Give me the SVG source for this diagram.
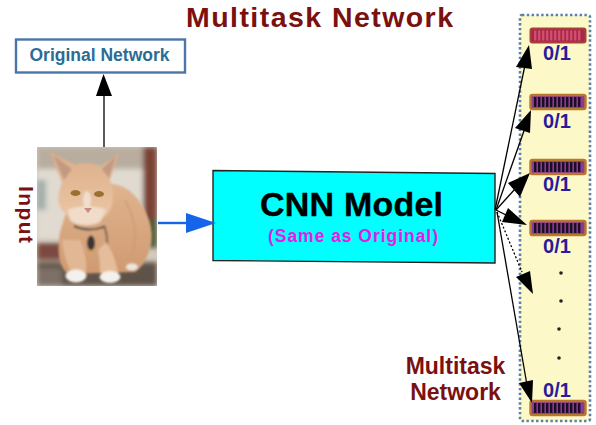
<svg xmlns="http://www.w3.org/2000/svg" width="596" height="425" viewBox="0 0 596 425">
<style>
text{font-family:"Liberation Sans",Arial,sans-serif;font-weight:700}
.title{fill:#7b1010;font-size:28.500px}
.red{fill:#7b1010;font-size:23px;text-anchor:middle}
.bit{fill:#2a1a9c;font-size:20px;text-anchor:middle}
.bar{fill:#8a3a96;stroke:#b8782a;stroke-width:2.400}
.ticks{fill:none;stroke:#1c0f24;stroke-width:10;stroke-dasharray:2.400 1.600}
.con{fill:none;stroke:#000;stroke-width:1.300}
.head{fill:#000}
.dot{fill:#222}
</style>
<defs>
<filter id="b1" x="-20%" y="-20%" width="140%" height="140%"><feGaussianBlur stdDeviation=".8"/></filter>
<filter id="b3" x="-30%" y="-30%" width="160%" height="160%"><feGaussianBlur stdDeviation="2.500"/></filter>
<linearGradient id="fur" x1="0" y1="0" x2="0" y2="1"><stop offset="0" stop-color="#e0b48e"/><stop offset="1" stop-color="#cf9a72"/></linearGradient>
<linearGradient id="face" x1="0" y1="0" x2="0" y2="1"><stop offset="0" stop-color="#dcae88"/><stop offset="1" stop-color="#ecc8a8"/></linearGradient>
<clipPath id="photo"><rect x="37" y="147" width="120" height="139"/></clipPath>
</defs>

<text class="title" x="319.500" y="26.500" text-anchor="middle" textLength="267">Multitask Network</text>

<g id="original-network">
<rect x="16" y="39.500" width="169" height="33" fill="#fff" stroke="#4a76a8" stroke-width="2.400"/>
<text x="99.500" y="60.500" font-size="17.500" fill="#2b6c96" text-anchor="middle">Original Network</text>
</g>

<g id="input">
<text transform="translate(19,186) rotate(90)" font-size="21" fill="#7b1010" textLength="57">Input</text>
<g clip-path="url(#photo)">
<rect x="37" y="147" width="120" height="139" fill="#d4cbbf"/>
<g filter="url(#b3)">
<rect x="37" y="147" width="110" height="22" fill="#b9ad9f"/>
<rect x="37" y="169" width="106" height="70" fill="#e0dad0"/>
<rect x="143" y="147" width="14" height="85" fill="#7a4336"/>
<rect x="149" y="218" width="8" height="30" fill="#4d5a35"/>
<rect x="37" y="180" width="9" height="30" fill="#a3aeac"/>
<rect x="37" y="243" width="30" height="17" fill="#7a4a40"/>
<rect x="37" y="262" width="120" height="24" fill="#5f5249"/>
<rect x="37" y="268" width="25" height="18" fill="#7d7068"/>
</g>
<g filter="url(#b1)">
<path d="M60 232C57 250 58 266 68 274L135 272C150 262 155 236 149 220C142 200 128 184 110 184L70 200Z" fill="url(#fur)"/>
<path d="M50 152L75 165C84 162 92 162 100 167L119 153C116 163 112 172 110 180C114 192 114 202 110 210C104 220 94 224 85 223C74 222 62 214 59 204C57 196 60 188 62 183C58 172 54 162 50 152Z" fill="url(#face)"/>
<path d="M53 155L72 169L64 180Z" fill="#c29a82"/>
<path d="M116 156L102 169L109 178Z" fill="#c29a82"/>
<path d="M125 200C135 218 138 235 132 256" stroke="#c89870" stroke-width="2" fill="none" opacity=".6"/>
<ellipse cx="87" cy="200" rx="4" ry="9" fill="#f3e6da" opacity=".8"/>
<path d="M68 210C78 205 96 205 106 210L100 222C90 227 76 226 70 220Z" fill="#f0dcc8"/>
<path d="M74 226C84 231 98 230 105 226" fill="none" stroke="#4a4a48" stroke-width="2"/>
<path d="M104 226C108 234 107 244 106 250" fill="none" stroke="#444" stroke-width="1.500"/>
<ellipse cx="91" cy="243" rx="4" ry="7.500" fill="#3a3530"/>
<circle cx="91" cy="251" r="1.500" fill="#c9a030"/>
<path d="M62 240C64 256 68 268 72 272L86 272C87 260 84 248 80 240Z" fill="#e2b794"/>
<path d="M98 250C100 260 100 268 100 273L118 273C116 262 112 250 106 242Z" fill="#e5bd9b"/>
<ellipse cx="76" cy="276" rx="10.500" ry="6.500" fill="#f4f1ec"/>
<ellipse cx="110" cy="277" rx="10.500" ry="6" fill="#f4f1ec"/>
<ellipse cx="132" cy="267" rx="6" ry="3.500" fill="#ece6de"/>
</g>
<ellipse cx="75.500" cy="193" rx="5" ry="3" fill="#9a7030"/>
<ellipse cx="99" cy="194" rx="5" ry="3" fill="#9a7030"/>
<path d="M84 208L92 208L88 213Z" fill="#c98a80"/>
</g>
</g>

<g id="cnn-model">
<path d="M213 170.500L495 173.500L495 263L213 260.500Z" fill="#00ffff" stroke="#222" stroke-width="1.400"/>
<text x="351.500" y="216" font-size="34" fill="#000" text-anchor="middle" font-weight="400" stroke="#000" stroke-width=".4" textLength="183">CNN Model</text>
<text x="353" y="242" font-size="17.500" fill="#e31ce8" text-anchor="middle" textLength="170">(Same as Original)</text>
</g>

<g id="multitask-panel">
<rect x="520" y="15" width="70" height="406" rx="2" fill="#fdf8c8" stroke="#5b7fa6" stroke-width="2.600" stroke-dasharray="2.400 2.400"/>
</g>

<g id="output-1">
<rect x="530.500" y="28.500" width="55" height="14" rx="2" fill="#a8264a" stroke="#a8403a" stroke-width="2"/>
<path class="ticks" d="M534 35.500H582" style="stroke:#cf4f6e"/>
<text class="bit" x="557" y="60">0/1</text>
</g>
<g id="output-2">
<rect class="bar" x="530.500" y="95" width="55" height="14" rx="2"/>
<path class="ticks" d="M534 102H582"/>
<text class="bit" x="557" y="128">0/1</text>
</g>
<g id="output-3">
<rect class="bar" x="530.500" y="160" width="55" height="14" rx="2"/>
<path class="ticks" d="M534 167H582"/>
<text class="bit" x="557" y="191">0/1</text>
</g>
<g id="output-4">
<rect class="bar" x="530.500" y="221" width="55" height="14" rx="2"/>
<path class="ticks" d="M534 228H582"/>
<text class="bit" x="557" y="253">0/1</text>
</g>
<g id="output-n">
<rect class="bar" x="530.500" y="401" width="55" height="14" rx="2"/>
<path class="ticks" d="M534 408H582"/>
<text class="bit" x="557" y="397">0/1</text>
</g>
<g id="ellipsis">
<circle class="dot" cx="561" cy="273" r="1.800"/>
<circle class="dot" cx="561" cy="301" r="1.800"/>
<circle class="dot" cx="559" cy="329" r="1.800"/>
<circle class="dot" cx="559" cy="358" r="1.800"/>
</g>
<g id="multitask-label">
<text class="red" x="455.500" y="374">Multitask</text>
<text class="red" x="455.500" y="400">Network</text>
</g>

<g id="connectors">
<path class="con" d="M104 147V92"/>
<path class="head" d="M103.500 74L112 96L96 96Z"/>
<path fill="none" stroke="#1565e8" stroke-width="2.400" d="M158 223H190"/>
<path fill="#1565e8" d="M216 223L186 213L186 233Z"/>
<path class="con" d="M495 210L525 65"/>
<path class="head" d="M529 45L532 69L516 67Z"/>
<path class="con" d="M496 210L525 128"/>
<path class="head" d="M531 110L530 133L515 128Z"/>
<path class="con" d="M496 210L515 189"/>
<path class="head" d="M530 173L520 197L508 183Z"/>
<path class="con" d="M496 210L510 217"/>
<path class="head" d="M527 225L502 222L508 208Z"/>
<path class="con" d="M497 212L522 272" stroke-dasharray="2 2"/>
<path class="head" d="M533 294L516 277L530 271Z"/>
<path class="con" d="M497 212L527 385"/>
<path class="head" d="M532 403L519 383L533 380Z"/>
</g>
</svg>
